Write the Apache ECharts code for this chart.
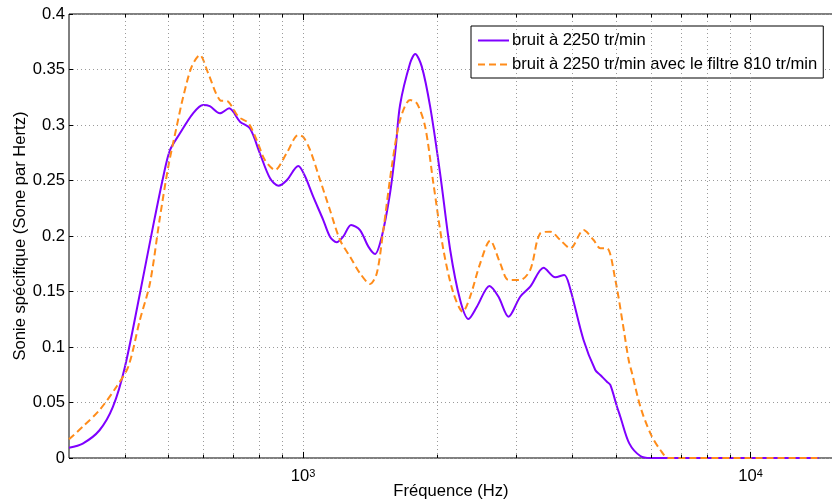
<!DOCTYPE html>
<html>
<head>
<meta charset="utf-8">
<script src="https://cdn.jsdelivr.net/npm/echarts@6/dist/echarts.min.js"></script>
<style>
html,body{margin:0;padding:0;background:#fff;}
#chart{width:832px;height:504px;}
</style>
</head>
<body>
<div id="chart"></div>
<script>
// Purple: bruit à 2250 tr/min
var freqA = [300,322,351,376,400,432,462,487,504,531,568,598,619,652,684,723,761,801,844,881,919,976,1010,1054,1110,1149,1189,1230,1281,1341,1400,1449,1500,1565,1610,1648,1735,1781,1843,1924,2025,2133,2245,2343,2447,2611,2735,2879,3058,3220,3449,3663,3836,3944,4236,4500,4617,4778,4862,5032,5119,5360,5675,5975,14200];
var valA  = [0.0093,0.013,0.025,0.046,0.082,0.148,0.208,0.253,0.277,0.2925,0.3105,0.318,0.317,0.3105,0.315,0.303,0.297,0.2745,0.252,0.2453,0.250,0.263,0.254,0.2354,0.2144,0.1994,0.1943,0.1994,0.21,0.2054,0.1904,0.1838,0.1994,0.2385,0.278,0.318,0.3556,0.364,0.3526,0.3165,0.2565,0.1874,0.1423,0.1252,0.1363,0.155,0.1453,0.1273,0.1453,0.1543,0.1714,0.1628,0.1649,0.1543,0.1063,0.0793,0.0748,0.0687,0.0658,0.0462,0.0372,0.0132,0.0018,0,0];
// Orange dashed: bruit à 2250 tr/min avec le filtre 810 tr/min
var freqB = [300,322,351,383,407,432,455,478,500,522,540,564,588,614,652,681,717,754,788,822,866,919,976,1002,1037,1092,1149,1210,1274,1341,1412,1462,1512,1579,1648,1735,1797,1875,1956,2060,2169,2276,2363,2489,2620,2759,2879,3058,3220,3390,3569,3758,3956,4236,4461,4617,4778,4989,5180,5343,5437,5675,5975,6290,6567,14200];
var valB  = [0.0168,0.0282,0.0432,0.0642,0.0823,0.1243,0.1574,0.2144,0.2624,0.2985,0.3255,0.3525,0.363,0.3466,0.3225,0.321,0.3075,0.302,0.2865,0.2685,0.2595,0.2745,0.291,0.289,0.2775,0.2505,0.2234,0.1964,0.1814,0.1664,0.1568,0.1664,0.2054,0.2624,0.3045,0.3225,0.3195,0.2985,0.2475,0.1874,0.1484,0.1318,0.1453,0.1754,0.1958,0.1754,0.1604,0.1604,0.1694,0.2024,0.2039,0.1964,0.1889,0.2054,0.1964,0.1889,0.1889,0.1604,0.122,0.0883,0.0763,0.0462,0.0222,0.0072,0,0];
var seriesNames = ['bruit à 2250 tr/min', 'bruit à 2250 tr/min avec le filtre 810 tr/min'];
var minorFreqs = [400,500,600,700,800,900,2000,3000,4000,5000,6000,7000,8000,9000];
var majorFreqs = [1000,10000];

function zip(a,b){ return a.map(function(v,i){ return [v,b[i]]; }); }

var gridLines = [];
var tickLines = [];
minorFreqs.concat(majorFreqs).forEach(function(f){
  gridLines.push([{coord:[f,0]},{coord:[f,0.4]}]);
  var len = majorFreqs.indexOf(f) >= 0 ? 0.0055 : 0.003;
  tickLines.push([{coord:[f,0]},{coord:[f,len]}]);
  tickLines.push([{coord:[f,0.4-len]},{coord:[f,0.4]}]);
});

var FONT = 'Liberation Sans, Arial, sans-serif';
var FS = 16.6;
var chart = echarts.init(document.getElementById('chart'), null, {renderer:'canvas'});
chart.setOption({
  animation: false,
  backgroundColor: '#fff',
  textStyle: {fontFamily: FONT},
  grid: {left: 69, right: -1, top: 14, bottom: 46, containLabel: false, outerBoundsMode: 'none',
         show: true, borderColor: '#000', borderWidth: 1, backgroundColor: 'transparent'},
  legend: {
    data: seriesNames,
    orient: 'vertical',
    left: 471, top: 26,
    padding: [6, 6, 5, 6],
    itemWidth: 31, itemHeight: 14, itemGap: 7,
    itemStyle: {opacity: 0},
    backgroundColor: '#fff',
    borderColor: '#000', borderWidth: 1,
    textStyle: {fontFamily: FONT, fontSize: FS, color: '#000', padding: [0,0,0,-2]},
    selectedMode: false
  },
  xAxis: {
    type: 'log', logBase: 10, min: 300, max: 15291,
    name: 'Fréquence (Hz)', nameLocation: 'middle', nameGap: 25, nameMoveOverlap: false,
    nameTextStyle: {fontFamily: FONT, fontSize: FS, color: '#000'},
    axisLine: {show: false},
    axisTick: {show: false},
    splitLine: {show: false},
    axisLabel: {
      margin: 10,
      showMinLabel: false, showMaxLabel: false,
      formatter: function(v){
        var e = Math.log10(v);
        if (Math.abs(e - Math.round(e)) > 1e-6) return '';
        return '{b|10}{s|' + Math.round(e) + '}';
      },
      rich: {
        b: {fontFamily: FONT, fontSize: FS, color: '#000'},
        s: {fontFamily: FONT, fontSize: 11, color: '#000', verticalAlign: 'top'}
      }
    }
  },
  yAxis: {
    type: 'value', min: 0, max: 0.4, interval: 0.05,
    name: 'Sonie spécifique (Sone par Hertz)', nameLocation: 'middle', nameGap: 40, nameMoveOverlap: false,
    nameTextStyle: {fontFamily: FONT, fontSize: FS, color: '#000'},
    axisLine: {show: false},
    axisTick: {show: true, inside: true, length: 4, lineStyle: {color: '#000'}},
    axisLabel: {fontFamily: FONT, fontSize: FS, color: '#000', margin: 4,
      formatter: function(v){ return String(Math.round(v*100)/100); }},
    splitLine: {show: true, lineStyle: {color: '#9a9a9a', width: 1, type: [1,3]}}
  },
  series: [
    {
      name: '_grid', type: 'line', data: [[300, null]], z: 1, silent: true,
      showSymbol: false, lineStyle: {opacity: 0},
      markLine: {
        silent: true, symbol: 'none', animation: false,
        label: {show: false},
        lineStyle: {color: '#9a9a9a', width: 1, type: [1,3]},
        data: gridLines
      }
    },
    {
      name: '_ticks', type: 'line', data: [[300, null]], z: 1, silent: true,
      showSymbol: false, lineStyle: {opacity: 0},
      markLine: {
        silent: true, symbol: 'none', animation: false,
        label: {show: false},
        lineStyle: {color: '#000', width: 1, type: 'solid'},
        data: tickLines
      }
    },
    {
      name: seriesNames[0], type: 'line', data: zip(freqA, valA),
      smooth: 0.3, showSymbol: false, symbol: 'none', z: 3,
      lineStyle: {color: '#7f00ff', width: 2},
      itemStyle: {color: '#7f00ff'}
    },
    {
      name: seriesNames[1], type: 'line', data: zip(freqB, valB),
      smooth: 0.3, showSymbol: false, symbol: 'none', z: 4,
      lineStyle: {color: '#ff8c1a', width: 2, type: [7,4]},
      itemStyle: {color: '#ff8c1a'}
    }
  ]
});
</script>
</body>
</html>
